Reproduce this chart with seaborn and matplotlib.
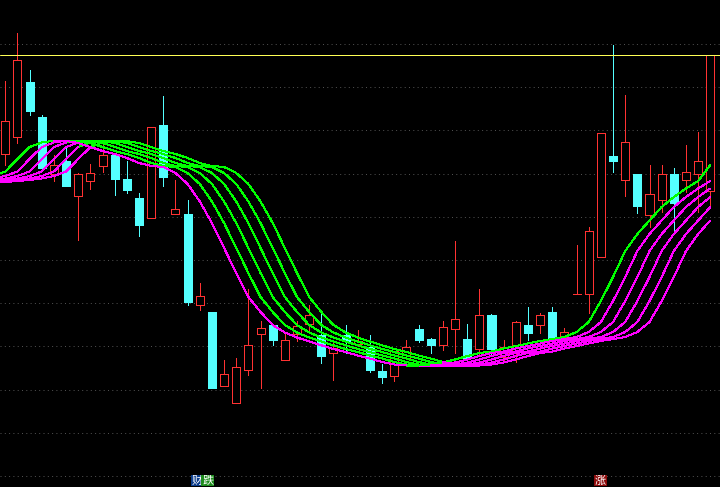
import numpy as np
import pandas as pd
import seaborn as sns
import matplotlib.pyplot as plt

# K线数据 (价格)
opens = [42.2, 43.9, 49.4, 45.9, 40.2, 41.5, 38.0, 39.5, 41.0, 42.1,
         39.7, 37.8, 35.8, 45.1, 36.2, 36.2, 27.1, 26.4, 19.0, 17.3,
         20.6, 24.2, 25.1, 21.6, 24.2, 25.2, 24.1, 22.3, 24.1, 23.2,
         22.9, 20.5, 20.0, 21.8, 24.7, 23.7, 23.1, 24.7, 23.7, 22.7,
         26.1, 21.9, 22.4, 25.1, 25.1, 26.4, 23.9, 28.2, 28.2, 31.9,
         42.0, 39.6, 40.2, 36.1, 37.6, 40.2, 39.6, 40.2, 38.5]
highs = [49.5, 54.3, 50.6, 46.1, 42.1, 42.9, 40.3, 41.2, 43.3, 42.1,
         41.5, 38.3, 44.9, 48.0, 39.6, 37.6, 29.3, 26.4, 21.6, 21.8,
         28.7, 25.5, 25.1, 24.3, 25.5, 27.1, 26.4, 23.3, 25.1, 24.6,
         24.1, 21.2, 22.5, 23.6, 25.1, 23.8, 25.5, 33.5, 25.2, 28.7,
         26.2, 23.6, 25.5, 26.9, 26.3, 26.9, 24.8, 33.1, 34.9, 44.3,
         53.1, 48.1, 40.2, 41.1, 41.1, 40.8, 43.1, 44.4, 52.1]
lows = [41.1, 43.3, 46.1, 40.6, 39.5, 39.0, 33.6, 38.7, 40.4, 38.1,
        38.3, 34.0, 35.8, 39.0, 36.2, 27.1, 26.6, 18.8, 19.0, 17.3,
        20.1, 18.8, 23.1, 21.6, 23.5, 24.3, 21.3, 19.6, 22.3, 23.0,
        20.4, 19.3, 19.5, 21.8, 23.4, 22.3, 22.6, 22.3, 21.8, 22.1,
        22.1, 21.4, 21.4, 23.6, 24.3, 23.4, 23.3, 28.2, 26.3, 31.9,
        40.4, 38.0, 36.3, 34.9, 36.4, 34.3, 38.4, 36.4, 37.1]
closes = [45.5, 51.6, 46.5, 40.8, 41.1, 39.0, 40.2, 40.3, 42.1, 39.7,
          38.6, 35.1, 44.9, 39.9, 36.7, 27.4, 28.0, 18.8, 20.2, 20.9,
          23.1, 24.8, 23.6, 23.6, 25.0, 26.1, 22.0, 22.8, 23.5, 23.5,
          20.6, 19.9, 22.5, 22.9, 23.6, 23.1, 24.9, 25.7, 21.8, 26.1,
          22.7, 22.9, 25.4, 24.3, 26.1, 23.7, 24.4, 28.2, 34.5, 44.3,
          41.5, 43.4, 37.0, 38.2, 40.2, 37.3, 40.4, 41.5, 52.1]

# 均线基准 (第 -6 根到第 58 根), 其余各线依次右移一根
base_line = [39.35, 39.4, 39.5, 39.6, 39.75, 40.0,
             40.45, 41.7, 42.9, 43.35, 43.53, 43.5, 43.3, 42.9, 42.5, 42.2,
             41.8, 41.3, 41.0, 40.9, 40.3, 39.2, 37.45, 35.3, 32.8, 30.3,
             27.9, 26.4, 25.1, 24.35, 23.85, 23.45, 23.07, 22.7, 22.4, 22.05,
             21.75, 21.4, 21.15, 21.05, 21.05, 21.15, 21.35, 21.65, 22.0, 22.3,
             22.45, 22.75, 23.0, 23.25, 23.5, 23.7, 23.9, 24.4, 25.4, 27.5,
             29.9, 32.5, 34.2, 35.55, 36.9, 37.9, 38.75, 39.5, 41.1]
base_start = -6
line_shifts = [0, 1, 2, 3, 4, 5]

level_price = 52.1
grid_levels = [10.0, 14.32, 18.64, 22.96, 27.28, 31.6, 35.92, 40.24, 44.56, 48.88, 53.2]

marker_text = ['财', '跌', '涨']
marker_pos = [15.8, 16.65, 48.95]
marker_color = ['#0a3c8c', '#1e8c1e', '#8c0a0a']

UP = '#ff3232'
DOWN = '#54ffff'
GREEN = '#00ff00'
MAGENTA = '#ff00ff'

sns.set_style('dark', rc={'axes.facecolor': 'black', 'figure.facecolor': 'black'})
plt.rcParams['font.family'] = ['Noto Sans CJK SC', 'DejaVu Sans']

n = len(opens)
xs = np.arange(n)
o = np.array(opens)
h = np.array(highs)
l = np.array(lows)
c = np.array(closes)
up = c >= o

fig = plt.figure(figsize=(7.2, 4.87), dpi=100)
ax = fig.add_axes([0, 0, 1, 1])
ax.set_facecolor('black')

for g in grid_levels:
    ax.axhline(g, color='#505050', lw=0.72, ls=(0, (1, 3.3)), zorder=1)

# 影线
ax.vlines(xs, l, h, colors=np.where(up, UP, DOWN), lw=0.72, zorder=2, antialiased=False)
# 实体
ax.bar(xs, np.abs(c - o), bottom=np.minimum(o, c), width=0.66,
       color=np.where(up, 'black', DOWN), edgecolor=np.where(up, UP, DOWN),
       linewidth=0.72, zorder=3, antialiased=False)

# 均线带
base = np.array(base_line)
idx = np.arange(-1, n)
lead = base[idx - base_start]
rows = []
seg = 0
for k in line_shifts:
    vals = base[idx - k - base_start]
    for j in range(len(idx) - 1):
        if k == 0:
            col = 'g' if vals[j + 1] >= vals[j] else 'm'
        else:
            col = 'g' if vals[j] + vals[j + 1] >= lead[j] + lead[j + 1] else 'm'
        rows.append((seg, idx[j], vals[j], col))
        rows.append((seg, idx[j + 1], vals[j + 1], col))
        seg += 1
df = pd.DataFrame(rows, columns=['seg', 'x', 'v', 'c'])
sns.lineplot(data=df, x='x', y='v', units='seg', hue='c', estimator=None,
             palette={'g': GREEN, 'm': MAGENTA}, hue_order=['g', 'm'],
             legend=False, sort=False, lw=0.72, antialiased=False, ax=ax, zorder=4)

ax.axhline(level_price, color='#ffff55', lw=0.72, zorder=6)

for t, p, fc in zip(marker_text, marker_pos, marker_color):
    ax.text(p, 9.55, t, ha='center', va='center', fontsize=8, color='white', zorder=7,
            bbox=dict(boxstyle='square,pad=0.08', fc=fc, ec='none'))

ax.set_xlim(-0.436, 58.8)
ax.set_ylim(8.9, 57.6)
ax.set_xlabel('')
ax.set_ylabel('')
ax.set_xticks([])
ax.set_yticks([])
for s in ax.spines.values():
    s.set_visible(False)

fig.savefig('out.png', dpi=100, facecolor='black')
